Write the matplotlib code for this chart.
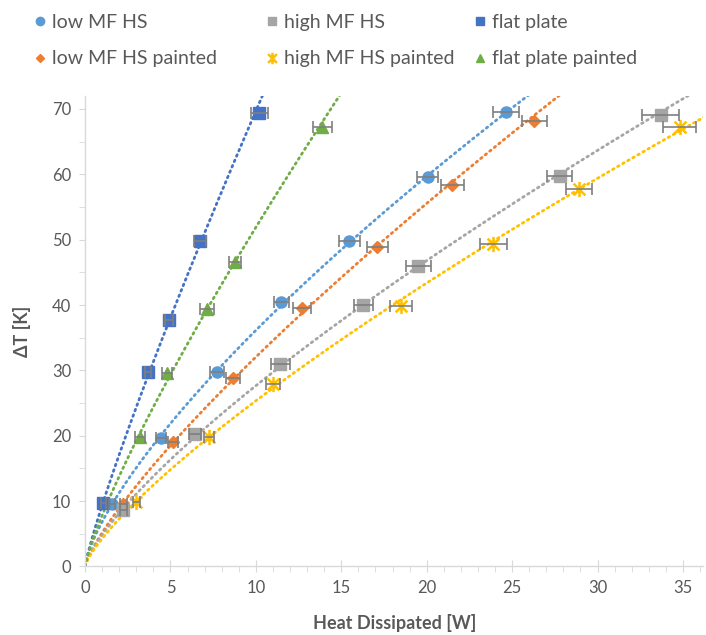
import numpy as np
import matplotlib
matplotlib.use("Agg")
import matplotlib.pyplot as plt
from matplotlib.path import Path
from matplotlib.ticker import MultipleLocator

plt.rcParams['font.family'] = ['Lato', 'DejaVu Sans']

# data
series_names = ["low MF HS", "low MF HS painted", "high MF HS",
                "high MF HS painted", "flat plate", "flat plate painted"]

low_q = [1.58, 4.45, 7.74, 11.49, 15.48, 20.05, 24.62]
low_dt = [9.6, 19.7, 29.8, 40.4, 49.8, 59.6, 69.6]
low_err = [0.2, 0.3, 0.4, 0.45, 0.62, 0.6, 0.76]

lowp_q = [2.23, 5.16, 8.68, 12.72, 17.12, 21.5, 26.3]
lowp_dt = [9.6, 19.1, 28.9, 39.6, 48.9, 58.4, 68.2]
lowp_err = [0.2, 0.3, 0.41, 0.52, 0.6, 0.67, 0.72]

high_q = [2.23, 6.45, 11.43, 16.3, 19.5, 27.8, 33.7]
high_dt = [8.7, 20.3, 30.9, 40.0, 45.9, 59.7, 69.0]
high_err = [0.2, 0.35, 0.54, 0.57, 0.74, 0.73, 1.07]

highp_q = [2.99, 7.27, 11.0, 18.5, 23.9, 28.9, 34.8]
highp_dt = [9.9, 19.8, 27.9, 39.9, 49.4, 57.8, 67.3]
highp_err = [0.2, 0.3, 0.4, 0.64, 0.8, 0.77, 0.96]

flat_q = [1.06, 3.69, 4.92, 6.74, 10.2]
flat_dt = [9.7, 29.8, 37.7, 49.8, 69.4]
flat_err = [0.15, 0.2, 0.25, 0.34, 0.49]

flatp_q = [3.22, 4.81, 7.15, 8.79, 13.9]
flatp_dt = [19.8, 29.6, 39.4, 46.6, 67.3]
flatp_err = [0.3, 0.3, 0.39, 0.36, 0.55]

colors = ["#5B9BD5", "#ED7D31", "#A5A5A5", "#FFC000", "#4472C4", "#70AD47"]

asterisk = Path([(-1, -1), (1, 1), (-1, 1), (1, -1), (0, -1.3), (0, 1.3)],
                [Path.MOVETO, Path.LINETO, Path.MOVETO, Path.LINETO, Path.MOVETO, Path.LINETO])
markers = ["o", "D", "s", asterisk, "s", "^"]
msizes = [8, 6, 8, 11, 8, 8]

all_q = [low_q, lowp_q, high_q, highp_q, flat_q, flatp_q]
all_dt = [low_dt, lowp_dt, high_dt, highp_dt, flat_dt, flatp_dt]
all_err = [low_err, lowp_err, high_err, highp_err, flat_err, flatp_err]

fig = plt.figure(figsize=(7.06, 6.35), dpi=100)
ax = fig.add_axes([0.1204, 0.108, 0.876, 0.741])

xs = np.linspace(0.001, 37, 600)
handles = []
for name, q, dt, err, c, m, ms in zip(series_names, all_q, all_dt, all_err, colors, markers, msizes):
    q = np.array(q)
    dt = np.array(dt)
    # power-law trendline, like the spreadsheet one
    b, loga = np.polyfit(np.log(q), np.log(dt), 1)
    ax.plot(xs, np.exp(loga) * xs ** b, color=c, lw=2.0,
            linestyle=(0, (0.6, 1.5)), dash_capstyle="round", zorder=2)
    if m is asterisk:
        h, = ax.plot(q, dt, linestyle="none", marker=m, markersize=ms,
                     markeredgecolor=c, markeredgewidth=1.8, color=c, zorder=3)
    else:
        h, = ax.plot(q, dt, linestyle="none", marker=m, markersize=ms,
                     color=c, markeredgecolor=c, zorder=3)
    ax.errorbar(q, dt, xerr=err, fmt="none", ecolor="#7F7F7F", elinewidth=1.2,
                capsize=4, capthick=1.2, zorder=4)
    handles.append(h)

ax.set_xlim(0, 36.2)
ax.set_ylim(0, 72)
ax.xaxis.set_major_locator(MultipleLocator(5))
ax.xaxis.set_minor_locator(MultipleLocator(1))
ax.yaxis.set_major_locator(MultipleLocator(10))
ax.yaxis.set_minor_locator(MultipleLocator(5))

for s in ["top", "right"]:
    ax.spines[s].set_visible(False)
for s in ["left", "bottom"]:
    ax.spines[s].set_color("#D9D9D9")
    ax.spines[s].set_linewidth(1.0)

ax.tick_params(axis="x", which="major", direction="inout", length=8, color="#D9D9D9",
               labelsize=12, labelcolor="#595959", pad=6)
ax.tick_params(axis="x", which="minor", direction="out", length=4, color="#D9D9D9")
ax.tick_params(axis="y", which="both", direction="out", length=4, color="#D9D9D9",
               labelsize=12, labelcolor="#595959", pad=6)

ax.set_xlabel("Heat Dissipated [W]", fontsize=13, fontweight="bold", color="#595959", labelpad=13)
ax.set_ylabel("ΔT [K]", fontsize=13, fontweight="bold", color="#595959", labelpad=15)

# legend: one column per call so each column sits where it does in the reference
col_x = [34 / 706, 266 / 706, 474 / 706]
for i, x0 in enumerate(col_x):
    fig.legend(handles[2 * i:2 * i + 2], series_names[2 * i:2 * i + 2], loc="upper left",
               bbox_to_anchor=(x0, 0.978), frameon=False, fontsize=14, labelcolor="#595959",
               markerscale=0.75, handlelength=0.6, handletextpad=0.32, borderpad=0,
               borderaxespad=0, labelspacing=1.0)

fig.savefig("out.png", dpi=100)
